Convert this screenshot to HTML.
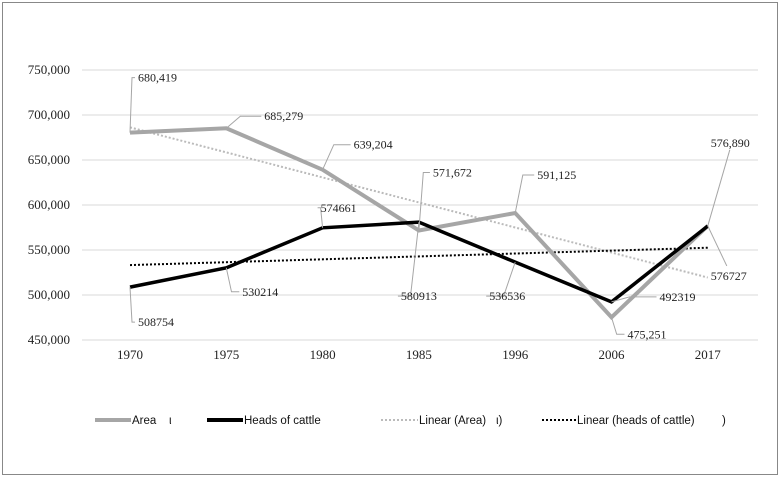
<!DOCTYPE html>
<html><head><meta charset="utf-8"><style>
body{margin:0;background:#fff;}
svg{display:block;}
.t{font-family:"Liberation Serif",serif;font-size:12px;fill:#222;}
.tk{font-family:"Liberation Serif",serif;font-size:13px;fill:#222;}
.lg{font-family:"Liberation Sans",sans-serif;font-size:11.5px;fill:#111;}
</style></head><body>
<svg id="c" width="780" height="478">
<rect x="2.5" y="2.5" width="775" height="472" fill="#fff" stroke="#888"/>
<g id="grid"></g><g id="axes"></g><g id="series"></g><g id="labels"></g>
<g>
<line x1="95" y1="420" x2="131" y2="420" stroke="#a6a6a6" stroke-width="4"/>
<text class="lg" x="132" y="424">Area</text>
<text class="lg" x="169" y="424">ι</text>
<line x1="207" y1="420" x2="243" y2="420" stroke="#000" stroke-width="4"/>
<text class="lg" x="244" y="424">Heads of cattle</text>
<line x1="381" y1="420" x2="418" y2="420" stroke="#bbb" stroke-width="2" stroke-dasharray="2,2"/>
<text class="lg" x="419" y="424">Linear (Area)</text>
<text class="lg" x="496" y="424">ι)</text>
<line x1="542" y1="420" x2="576" y2="420" stroke="#000" stroke-width="2" stroke-dasharray="2,2"/>
<text class="lg" x="577" y="424">Linear (heads of cattle)</text>
<text class="lg" x="722" y="424">)</text>
</g>
</svg>
<script>
const categories=["1970","1975","1980","1985","1996","2006","2017"];
const areaValues=[680419,685279,639204,571672,591125,475251,576890];
const cattleValues=[508754,530214,574661,580913,536536,492319,576727];
const yTicks=[450000,500000,550000,600000,650000,700000,750000];
const areaLabels=["680,419","685,279","639,204","571,672","591,125","475,251","576,890"];
const cattleLabels=["508754","530214","574661","580913","536536","492319","576727"];
const NS="http://www.w3.org/2000/svg";
const x0=130,dx=96.3;
const xs=i=>x0+i*dx;
const ys=v=>70+(750000-v)*0.0009;
function mk(tag,attrs,parent){const e=document.createElementNS(NS,tag);for(const k in attrs)e.setAttribute(k,attrs[k]);document.getElementById(parent).appendChild(e);return e;}
yTicks.forEach(v=>{
 const l=mk('line',{x1:82,x2:758,y1:ys(v),y2:ys(v),stroke:'#d9d9d9'},'grid');
 
 
 const t=mk('text',{x:70,y:ys(v)+4,'text-anchor':'end',class:'tk'},'axes');
 t.textContent=v.toLocaleString('en-US');
 
 
});
categories.forEach((c,i)=>{
 const t=mk('text',{x:xs(i),y:359,'text-anchor':'middle',class:'tk'},'axes');
 t.textContent=c;
 
 
});
function trend(vals){const n=vals.length;let sx=0,sy=0,sxy=0,sxx=0;vals.forEach((v,i)=>{sx+=i;sy+=v;sxy+=i*v;sxx+=i*i;});const b=(n*sxy-sx*sy)/(n*sxx-sx*sx);const a=(sy-b*sx)/n;return [a,a+b*(n-1)];}
const ta=trend(areaValues),tc=trend(cattleValues);
let e=mk('line',{x1:xs(0),y1:ys(ta[0]),x2:xs(6),y2:ys(ta[1]),stroke:'#bbb','stroke-width':2,'stroke-dasharray':'2,2'},'series');


e=mk('line',{x1:xs(0),y1:ys(tc[0]),x2:xs(6),y2:ys(tc[1]),stroke:'#000','stroke-width':2,'stroke-dasharray':'2,2'},'series');


e=mk('polyline',{points:areaValues.map((v,i)=>xs(i)+','+ys(v)).join(' '),fill:'none',stroke:'#a6a6a6','stroke-width':4},'series');


e=mk('polyline',{points:cattleValues.map((v,i)=>xs(i)+','+ys(v)).join(' '),fill:'none',stroke:'#000','stroke-width':3.5},'series');


const areaOff=[[5,-55],[35,-12],[28,-25],[11,-58],[19,-38],[13,17],[22,-76]];
const cattleOff=[[5,35],[13,24],[-5,-20],[-21,74],[-29,34],[45,-5],[19,40]];
const areaText=[null,null,null,null,null,null,[0,-83]];
const cattleText=[null,null,null,null,null,null,[0,50]];
function label(i,v,txt,off,toff,name){
 const px=xs(i),py=ys(v),lx=px+off[0],ly=py+off[1];
 const p=mk('polyline',{points:toff?`${px},${py} ${lx},${ly}`:`${px},${py} ${px+off[0]*0.4},${ly} ${lx},${ly}`,fill:'none',stroke:'#a6a6a6','stroke-width':1},'labels');
 
 
 const tx=toff?px+toff[0]+3:lx+3, ty=toff?py+toff[1]+4:ly+4;
 const t=mk('text',{x:tx,y:ty,class:'t'},'labels');
 t.textContent=txt;
 
 
}
areaValues.forEach((v,i)=>label(i,v,areaLabels[i],areaOff[i],areaText[i],'area-data-label'));
cattleValues.forEach((v,i)=>label(i,v,cattleLabels[i],cattleOff[i],cattleText[i],'cattle-data-label'));
</script>
</body></html>
